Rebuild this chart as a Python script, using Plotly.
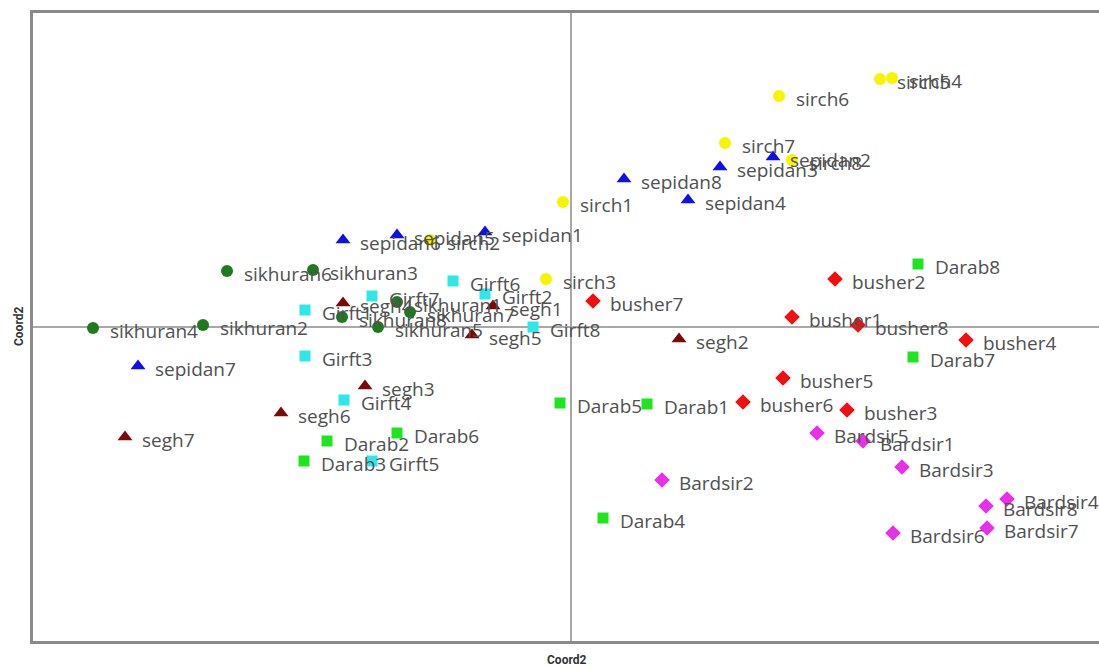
import plotly.graph_objects as go

# Principal coordinate scores for each sample, grouped by population
sikhuran_names = ["sikhuran1", "sikhuran2", "sikhuran3", "sikhuran4", "sikhuran5", "sikhuran6", "sikhuran7", "sikhuran8"]
sikhuran_x = [-0.174, -0.368, -0.258, -0.478, -0.193, -0.344, -0.161, -0.229]
sikhuran_y = [0.025, 0.002, 0.057, -0.001, 0.000, 0.056, 0.015, 0.010]

sepidan_names = ["sepidan1", "sepidan2", "sepidan3", "sepidan4", "sepidan5", "sepidan6", "sepidan7", "sepidan8"]
sepidan_x = [-0.086, 0.202, 0.149, 0.117, -0.174, -0.228, -0.433, 0.053]
sepidan_y = [0.095, 0.170, 0.160, 0.127, 0.092, 0.087, -0.039, 0.148]

sirch_names = ["sirch1", "sirch2", "sirch3", "sirch4", "sirch5", "sirch6", "sirch7", "sirch8"]
sirch_x = [-0.008, -0.141, -0.025, 0.321, 0.309, 0.208, 0.154, 0.221]
sirch_y = [0.125, 0.087, 0.048, 0.249, 0.248, 0.231, 0.184, 0.167]

girft_names = ["Girft1", "Girft2", "Girft3", "Girft4", "Girft5", "Girft6", "Girft7", "Girft8"]
girft_x = [-0.266, -0.086, -0.266, -0.227, -0.199, -0.118, -0.199, -0.038]
girft_y = [0.017, 0.033, -0.029, -0.073, -0.134, 0.046, 0.031, 0.000]

segh_names = ["segh1", "segh2", "segh3", "segh4", "segh5", "segh6", "segh7"]
segh_x = [-0.078, 0.108, -0.206, -0.228, -0.099, -0.290, -0.446]
segh_y = [0.021, -0.012, -0.059, 0.024, -0.008, -0.086, -0.110]

busher_names = ["busher1", "busher2", "busher3", "busher4", "busher5", "busher6", "busher7", "busher8"]
busher_x = [0.221, 0.264, 0.276, 0.395, 0.212, 0.172, 0.022, 0.287]
busher_y = [0.010, 0.048, -0.083, -0.013, -0.051, -0.075, 0.026, 0.002]

darab_names = ["Darab1", "Darab2", "Darab3", "Darab4", "Darab5", "Darab6", "Darab7", "Darab8"]
darab_x = [0.076, -0.244, -0.267, 0.032, -0.011, -0.174, 0.342, 0.347]
darab_y = [-0.077, -0.114, -0.134, -0.191, -0.076, -0.106, -0.030, 0.063]

bardsir_names = ["Bardsir1", "Bardsir2", "Bardsir3", "Bardsir4", "Bardsir5", "Bardsir6", "Bardsir7", "Bardsir8"]
bardsir_x = [0.292, 0.091, 0.331, 0.436, 0.246, 0.322, 0.416, 0.415]
bardsir_y = [-0.114, -0.153, -0.140, -0.172, -0.106, -0.206, -0.201, -0.179]

groups = [
    (sikhuran_names, sikhuran_x, sikhuran_y, "circle", "#1f7a1f", 12),
    (sepidan_names, sepidan_x, sepidan_y, "triangle-up", "#1010e6", 13),
    (sirch_names, sirch_x, sirch_y, "circle", "#f5f500", 12),
    (girft_names, girft_x, girft_y, "square", "#2ee8e8", 11),
    (segh_names, segh_x, segh_y, "triangle-up", "#7a0a0a", 13),
    (busher_names, busher_x, busher_y, "diamond", "#f01010", 12),
    (darab_names, darab_x, darab_y, "square", "#1ee61e", 11),
    (bardsir_names, bardsir_x, bardsir_y, "diamond", "#e830e8", 12),
]

fig = go.Figure()
annotations = []
for names, xs, ys, symbol, color, size in groups:
    fig.add_trace(go.Scatter(
        x=xs, y=ys, mode="markers", name=names[0],
        marker=dict(symbol=symbol, color=color, size=size, line=dict(width=0)),
        hoverinfo="text", text=names,
    ))
    for n, x, y in zip(names, xs, ys):
        annotations.append(dict(
            x=x, y=y, text=n, showarrow=False, xanchor="left", yanchor="middle",
            xshift=15, yshift=-3,
            font=dict(family="Open Sans", size=19, color="#505050"),
        ))

axis_font = dict(family="Roboto", size=12, color="#333333")
annotations.append(dict(
    x=0.5, y=0, xref="paper", yref="paper", yshift=-19, showarrow=False,
    text="<b>Coord2</b>", font=axis_font, xanchor="center", yanchor="middle",
))
annotations.append(dict(
    x=0, y=0.5, xref="paper", yref="paper", xshift=-14, showarrow=False,
    text="<b>Coord2</b>", font=axis_font, textangle=-90, xanchor="center", yanchor="middle",
))

fig.update_layout(
    width=1099, height=668,
    margin=dict(l=33, r=0, t=13, b=27),
    paper_bgcolor="white", plot_bgcolor="white",
    showlegend=False,
    annotations=annotations,
    xaxis=dict(range=[-0.538, 0.528], showgrid=False, showticklabels=False, ticks="",
               zeroline=True, zerolinecolor="#a8a8a8", zerolinewidth=1.5,
               showline=True, mirror=True, linecolor="#8a8a8a", linewidth=2.5),
    yaxis=dict(range=[-0.314, 0.314], showgrid=False, showticklabels=False, ticks="",
               zeroline=True, zerolinecolor="#a8a8a8", zerolinewidth=1.5,
               showline=True, mirror=False, linecolor="#8a8a8a", linewidth=2.5),
)

fig.write_html("out.html")
